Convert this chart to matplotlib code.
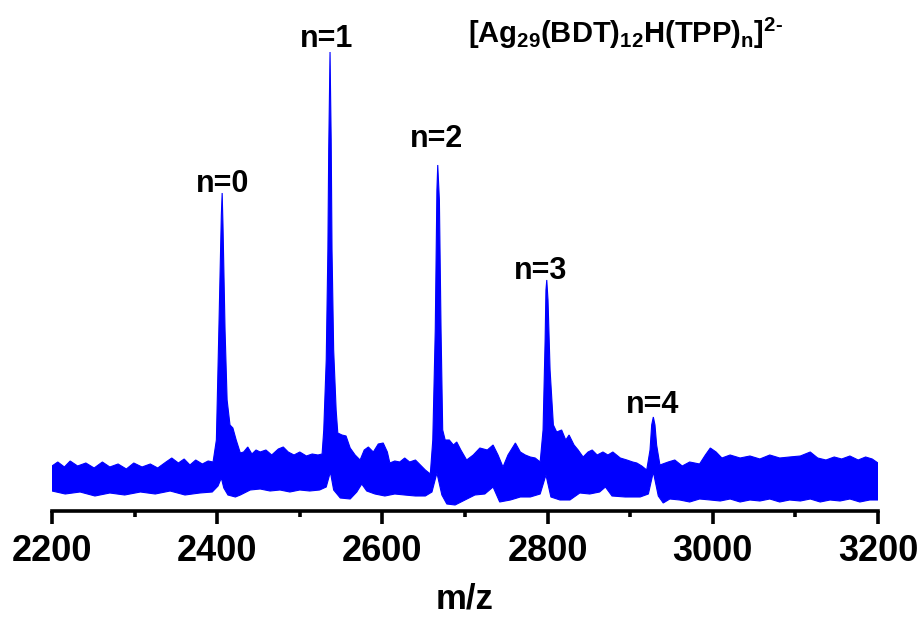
import matplotlib
matplotlib.use("Agg")
import matplotlib.pyplot as plt

# ---- data (m/z, intensity in a.u.) ----
upper_mz = [2200, 2207, 2215, 2222, 2231, 2241, 2251, 2261, 2270, 2280, 2290, 2299, 2309, 2319,
            2328, 2338, 2345, 2353, 2360, 2367, 2374, 2382, 2389, 2395, 2399, 2402, 2405, 2406,
            2407, 2409.5, 2412, 2415.5, 2419, 2423, 2428, 2432, 2437, 2442, 2447, 2452, 2459,
            2466, 2474, 2480, 2486, 2493, 2500, 2508, 2515, 2522, 2527, 2529, 2532, 2534, 2535,
            2536.6, 2538, 2539, 2541, 2544, 2546, 2551, 2556, 2561, 2567, 2573, 2578, 2583, 2589,
            2595, 2601, 2606, 2609, 2615, 2621, 2627, 2633, 2640, 2646, 2652, 2658, 2661, 2664,
            2666, 2667, 2669, 2671, 2673, 2676, 2681, 2686, 2690, 2695, 2702, 2710, 2718, 2727,
            2734, 2740, 2746, 2752, 2761, 2767, 2773, 2779, 2785, 2791, 2794.5, 2797, 2798, 2799,
            2800.5, 2803, 2807, 2811, 2817, 2822, 2826, 2832, 2837, 2843, 2849, 2854, 2860, 2867,
            2873, 2879, 2888, 2896, 2903, 2908, 2914, 2920, 2924, 2926, 2928, 2930, 2932, 2936,
            2946, 2954, 2963, 2972, 2984, 2991, 2997, 3004, 3011, 3021, 3033, 3045, 3057, 3069,
            3081, 3093, 3106, 3118, 3127, 3137, 3147, 3156, 3166, 3176, 3185, 3193, 3200]
upper_int = [45, 49, 44, 50, 45, 48, 43, 49, 44, 47, 42, 48, 44, 47,
             43, 49, 53, 48, 52, 46, 51, 47, 50, 49, 71, 181, 296, 318,
             286, 181, 111, 86, 83, 71, 58, 59, 64, 57, 61, 59, 61,
             56, 62, 64, 59, 56, 59, 55, 57, 56, 57, 81, 151, 261, 361,
             459, 371, 261, 161, 101, 78, 76, 75, 63, 56, 51, 61, 64, 59,
             67, 68, 59, 48, 50, 49, 53, 49, 51, 46, 41, 37, 71, 181,
             321, 346, 311, 181, 81, 71, 71, 66, 69, 61, 51, 56, 63, 61,
             66, 56, 44, 56, 68, 59, 56, 54, 53, 49, 81, 171, 221, 231,
             211, 141, 86, 79, 81, 71, 76, 66, 61, 54, 59, 61, 56, 59,
             56, 59, 53, 51, 49, 48, 45, 41, 61, 86, 94, 86, 66, 46,
             49, 51, 45, 49, 47, 56, 63, 59, 53, 56, 53, 55, 52, 56,
             53, 54, 55, 59, 53, 51, 54, 52, 55, 51, 54, 52, 48]

lower_mz = [2200, 2216, 2234, 2252, 2270, 2288, 2307, 2325, 2343, 2361, 2379, 2394, 2401, 2405,
            2408, 2413, 2422, 2428, 2440, 2452, 2464, 2476, 2488, 2500, 2512, 2524, 2532, 2537,
            2541, 2549, 2561, 2569, 2575, 2581, 2591, 2603, 2615, 2627, 2640, 2652, 2660, 2666,
            2672, 2678, 2688, 2700, 2712, 2724, 2734, 2742, 2755, 2767, 2779, 2791, 2798, 2804,
            2815, 2827, 2839, 2851, 2863, 2870, 2878, 2894, 2912, 2922, 2928, 2934, 2940, 2948,
            2960, 2972, 2984, 2997, 3009, 3021, 3033, 3045, 3057, 3069, 3081, 3093, 3106, 3118,
            3130, 3142, 3154, 3166, 3178, 3190, 3200]
lower_int = [20, 17, 19, 15, 18, 16, 19, 17, 20, 16, 18, 19, 25, 33,
             23, 16, 14, 16, 21, 22, 20, 21, 19, 21, 20, 21, 24, 39,
             21, 13, 12, 19, 27, 20, 17, 15, 17, 16, 15, 15, 19, 38,
             16, 7, 6, 11, 16, 17, 24, 9, 11, 14, 14, 17, 36, 14,
             11, 11, 18, 17, 19, 24, 15, 14, 14, 17, 39, 15, 8, 12,
             11, 9, 12, 11, 10, 12, 9, 11, 10, 12, 9, 11, 10, 12,
             9, 11, 10, 12, 9, 11, 11]

peak_labels = ["n=0", "n=1", "n=2", "n=3", "n=4"]
label_mz = [2407, 2533, 2665, 2792, 2927]
label_int = [319, 464, 364, 232, 98]

title_text = r"$\mathrm{[Ag_{29}(BDT)_{12}H(TPP)_{n}]^{2\text{-}}}$"
xticks = [2200, 2400, 2600, 2800, 3000, 3200]
xlabel = "m/z"

# ---- style ----
plt.rcParams["font.family"] = ["Liberation Sans", "DejaVu Sans"]
plt.rcParams["font.weight"] = "bold"
plt.rcParams["mathtext.fontset"] = "custom"
plt.rcParams["mathtext.rm"] = "Liberation Sans:bold"
plt.rcParams["mathtext.bf"] = "Liberation Sans:bold"
plt.rcParams["mathtext.it"] = "Liberation Sans:bold"

fig = plt.figure(figsize=(9.21, 6.17), dpi=100)
ax = fig.add_axes([52 / 921, 106 / 617, 826 / 921, 480 / 617])

poly_x = upper_mz + lower_mz[::-1]
poly_y = upper_int + lower_int[::-1]
ax.fill(poly_x, poly_y, color="#0000ff", lw=0.8, ec="#0000ff")

ax.set_xlim(2200, 3200)
ax.set_ylim(0, 480)

for s in ["top", "left", "right"]:
    ax.spines[s].set_visible(False)
ax.spines["bottom"].set_linewidth(2.6)
ax.set_yticks([])
ax.set_xticks(xticks)
ax.set_xticks(list(range(2300, 3200, 200)), minor=True)
ax.tick_params(axis="x", which="major", direction="out", length=9.5, width=2.6,
               pad=7, labelsize=26)
ax.tick_params(axis="x", which="minor", direction="out", length=4.5, width=2.6)
for lab in ax.get_xticklabels():
    lab.set_fontweight("bold")
ax.set_xlabel(xlabel, fontsize=25, fontweight="bold", labelpad=10)

for t, x, y in zip(peak_labels, label_mz, label_int):
    ax.text(x, y, t, ha="center", va="baseline", fontsize=22, fontweight="bold")

fig.text(626 / 921, 1 - 33 / 617, title_text, ha="center", va="center", fontsize=21)

fig.savefig("out.png", dpi=100)
